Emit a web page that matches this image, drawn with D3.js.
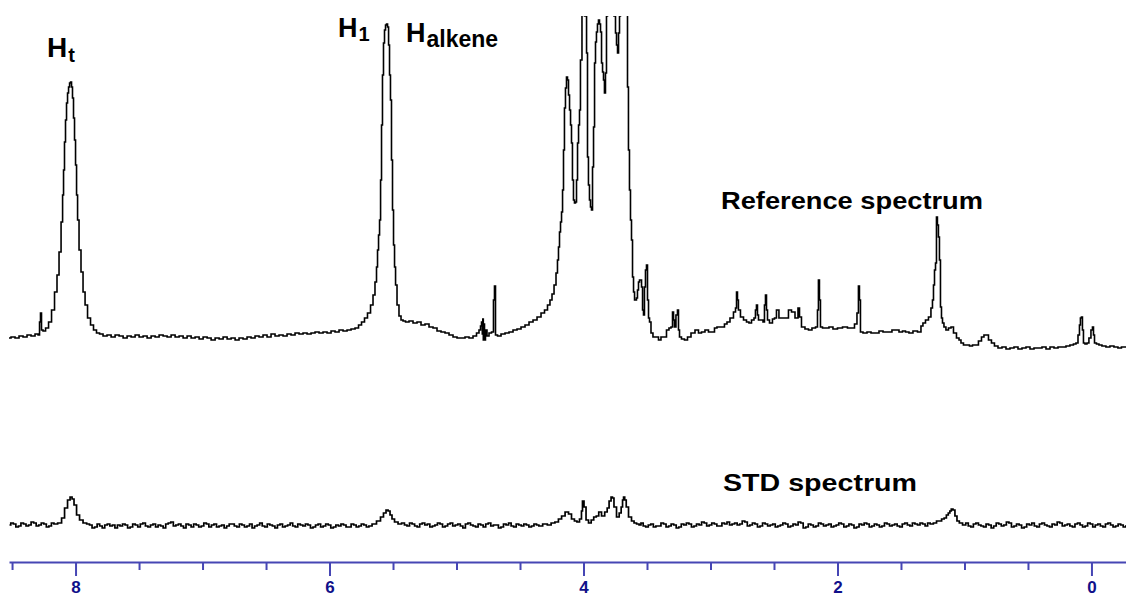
<!DOCTYPE html>
<html><head><meta charset="utf-8">
<script src="https://cdn.jsdelivr.net/npm/d3@7"></script>
<style>html,body{margin:0;padding:0;background:#fff;overflow:hidden;} svg{display:block;}</style>
</head><body><svg id="chart" width="1126" height="597"></svg>
<script>
// ---- data: chemical shift (ppm) and relative intensity (a.u.) ----
const referenceSpectrum = [
[8.524,14],[8.492,15],[8.461,14],[8.429,16],[8.398,15],[8.366,17],[8.335,16],[8.303,18],[8.287,17],[8.280,30],[8.272,39],[8.264,22],[8.248,21],[8.224,24],[8.201,30],[8.177,42],[8.154,60],[8.138,77],[8.122,100],[8.106,130],[8.098,157],[8.091,182],[8.083,210],[8.075,232],[8.067,249],[8.059,259],[8.051,265],[8.043,269],[8.035,270],[8.028,265],[8.020,254],[8.012,234],[8.004,212],[7.996,187],[7.988,157],[7.980,132],[7.965,102],[7.949,80],[7.933,60],[7.917,47],[7.894,34],[7.870,27],[7.847,22],[7.823,19],[7.799,18],
[7.768,16],[7.736,17],[7.704,15],[7.673,17],[7.641,16],[7.610,14],[7.578,16],[7.547,15],[7.515,17],[7.484,15],[7.452,16],[7.421,14],[7.389,16],[7.358,15],[7.326,17],[7.295,16],[7.263,15],[7.232,17],[7.200,15],[7.169,16],[7.137,14],[7.106,16],[7.074,14],[7.043,15],[7.011,13],[6.980,15],[6.948,14],[6.917,12],[6.885,14],[6.854,13],[6.822,15],[6.791,13],[6.759,14],[6.728,12],[6.697,14],[6.665,13],[6.634,15],[6.602,14],[6.571,16],[6.539,15],[6.508,17],[6.476,15],[6.445,18],[6.413,16],[6.382,17],[6.350,16],[6.319,18],[6.287,17],[6.256,19],[6.224,18],[6.193,19],[6.161,18],[6.130,19],[6.098,20],[6.067,19],[6.035,20],[6.004,19],[5.972,21],[5.941,20],[5.909,22],[5.878,21],[5.846,22],[5.815,23],[5.783,24],
[5.760,27],[5.736,30],[5.713,34],[5.689,39],[5.665,47],[5.650,57],[5.634,70],[5.626,85],[5.618,102],[5.610,117],[5.602,132],[5.594,172],[5.587,227],[5.579,277],[5.571,309],[5.563,322],[5.555,327],[5.547,328],[5.539,325],[5.531,307],[5.524,277],[5.516,252],[5.508,192],[5.500,142],[5.492,107],[5.484,85],[5.476,67],[5.461,47],[5.445,36],[5.429,32],[5.413,31],[5.390,30],[5.358,31],[5.327,29],[5.295,30],[5.264,27],[5.232,28],[5.201,25],[5.169,24],[5.138,21],[5.106,20],[5.075,19],[5.043,17],[5.012,15],[4.980,14],[4.949,14],[4.917,15],[4.886,14],[4.854,16],[4.831,19],[4.815,22],[4.807,26],[4.799,30],[4.795,18],[4.791,33],[4.787,12],[4.783,28],[4.776,12],[4.768,22],[4.752,16],[4.736,19],[4.713,20],[4.705,52],[4.697,66],[4.689,17],[4.665,16],[4.634,18],[4.602,19],[4.571,20],[4.539,22],[4.508,23],[4.476,25],[4.445,27],[4.413,30],[4.382,32],[4.350,35],[4.319,39],[4.295,42],[4.272,47],[4.256,52],[4.240,58],[4.224,67],[4.209,79],[4.201,92],[4.193,105],[4.185,120],[4.177,130],[4.169,140],[4.161,162],[4.154,202],[4.146,244],[4.138,264],[4.130,275],[4.122,272],[4.114,257],[4.106,242],[4.098,227],[4.091,209],[4.083,172],[4.075,152],[4.067,149],[4.059,150],[4.051,172],[4.043,209],[4.035,227],[4.028,242],[4.020,292],[4.004,392],[3.980,336],[3.972,299],[3.965,195],[3.957,167],[3.949,152],[3.941,145],[3.933,142],[3.925,185],[3.917,225],[3.909,289],[3.902,310],[3.894,320],[3.886,328],[3.878,332],[3.870,328],[3.862,320],[3.854,289],[3.846,280],[3.839,272],[3.831,259],[3.823,279],[3.815,336],[3.807,372],[3.791,402],[3.768,372],[3.752,336],[3.744,319],[3.736,307],[3.728,299],[3.720,319],[3.713,336],[3.705,372],[3.681,412],[3.657,372],[3.650,265],[3.642,202],[3.634,162],[3.626,132],[3.618,112],[3.610,75],[3.602,60],[3.594,52],[3.587,52],[3.579,54],[3.571,62],[3.563,70],[3.555,72],[3.547,72],[3.539,65],[3.531,42],[3.524,37],[3.516,65],[3.508,82],[3.500,87],[3.492,52],[3.484,34],[3.476,30],[3.461,19],[3.445,15],[3.421,15],[3.398,12],[3.382,15],[3.358,15],[3.335,22],[3.319,24],[3.303,25],[3.295,40],[3.287,32],[3.280,25],[3.264,37],[3.256,42],[3.248,22],[3.240,15],[3.217,13],[3.193,12],[3.169,15],[3.138,19],[3.106,22],[3.083,19],[3.059,20],[3.028,22],[3.004,20],[2.980,20],[2.957,24],[2.941,25],[2.917,25],[2.902,25],[2.878,28],[2.862,30],[2.831,34],[2.807,40],[2.799,44],[2.791,60],[2.784,52],[2.776,42],[2.752,35],[2.728,32],[2.705,30],[2.689,29],[2.665,32],[2.650,34],[2.642,42],[2.634,47],[2.626,37],[2.618,32],[2.594,32],[2.579,30],[2.571,47],[2.563,57],[2.555,42],[2.547,32],[2.524,29],[2.500,33],[2.492,34],[2.469,42],[2.453,34],[2.421,34],[2.398,34],[2.374,42],[2.350,40],[2.319,34],[2.303,44],[2.295,35],[2.272,25],[2.240,23],[2.217,22],[2.185,24],[2.161,25],[2.154,42],[2.146,72],[2.138,52],[2.130,25],[2.106,24],[2.083,24],[2.051,25],[2.020,23],[1.980,24],[1.941,25],[1.902,24],[1.878,24],[1.854,28],[1.839,39],[1.831,66],[1.823,52],[1.815,20],[1.783,19],[1.752,20],[1.720,19],[1.689,19],[1.657,21],[1.626,20],[1.587,20],[1.555,22],[1.531,22],[1.500,20],[1.476,21],[1.453,20],[1.421,19],[1.390,21],[1.350,20],[1.335,26],[1.319,29],[1.295,32],[1.272,35],[1.256,44],[1.248,52],[1.240,67],[1.232,82],[1.224,89],[1.217,135],[1.209,127],[1.201,115],[1.193,92],[1.185,45],[1.177,34],[1.169,29],[1.154,25],[1.138,22],[1.114,24],[1.098,25],[1.075,19],[1.051,14],[1.035,12],[1.020,9],[0.996,7],[0.972,7],[0.949,6],[0.925,7],[0.902,7],[0.878,11],[0.854,15],[0.839,17],[0.823,17],[0.799,12],[0.776,9],[0.752,6],[0.720,4],[0.689,5],[0.657,3],[0.626,4],[0.594,5],[0.563,3],[0.531,4],[0.500,5],[0.468,3],[0.437,4],[0.405,4],[0.374,5],[0.342,3],[0.311,5],[0.279,4],[0.248,5],[0.216,5],[0.185,6],[0.154,7],[0.130,8],[0.114,9],[0.098,17],[0.091,27],[0.083,34],[0.075,35],[0.067,22],[0.059,9],[0.043,8],[0.028,9],[0.012,14],[-0.004,22],[-0.012,25],[-0.020,17],[-0.028,9],[-0.051,8],[-0.067,7],[-0.098,6],[-0.130,5],[-0.161,6],[-0.193,5],[-0.224,4],[-0.248,5],[-0.272,5]
];

const stdSpectrum = [
[8.52,3],[8.50,5],[8.48,4],[8.46,1],[8.44,2],[8.42,5],[8.40,4],[8.38,2],[8.36,3],[8.34,6],[8.32,5],[8.30,2],[8.28,3],[8.26,5],[8.24,4],[8.22,1],[8.20,2],[8.18,5],[8.16,4],
[8.122,5],[8.098,10],[8.075,20],[8.051,28],[8.035,31],[8.020,29],[8.004,23],[7.980,13],[7.957,8],[7.925,5],
[7.90,4],[7.88,3],[7.86,0],[7.84,1],[7.82,4],[7.80,2],[7.78,0],[7.76,3],[7.74,4],[7.72,2],[7.70,3],[7.68,0],[7.66,3],[7.64,2],[7.62,4],[7.60,3],[7.58,0],[7.56,1],[7.54,4],[7.52,3],[7.50,1],[7.48,4],[7.46,5],[7.44,2],[7.42,1],[7.40,3],[7.38,4],[7.36,1],[7.34,3],[7.32,2],[7.30,0],[7.28,4],[7.26,5],[7.24,6],[7.22,2],[7.20,3],[7.18,4],[7.16,2],[7.14,0],[7.12,4],[7.10,3],[7.08,1],[7.06,4],[7.04,3],[7.02,1],[7.00,2],[6.98,5],[6.96,4],[6.94,1],[6.92,3],[6.90,4],[6.88,1],[6.86,2],[6.84,3],[6.82,0],[6.80,2],[6.78,4],[6.76,4],[6.74,2],[6.72,1],[6.70,4],[6.68,3],[6.66,1],[6.64,2],[6.62,4],[6.60,0],[6.58,2],[6.56,3],[6.54,5],[6.52,2],[6.50,1],[6.48,4],[6.46,3],[6.44,2],[6.42,0],[6.40,3],[6.38,4],[6.36,1],[6.34,2],[6.32,3],[6.30,5],[6.28,2],[6.26,1],[6.24,4],[6.22,3],[6.20,2],[6.18,4],[6.16,3],[6.14,0],[6.12,1],[6.10,3],[6.08,4],[6.06,1],[6.04,2],[6.02,4],[6.00,3],[5.98,0],[5.96,1],[5.94,3],[5.92,2],[5.90,4],[5.88,3],[5.86,1],[5.84,1],[5.82,4],[5.80,3],[5.78,1],[5.76,2],[5.74,4],[5.72,3],[5.70,1],[5.68,2],
[5.650,4],[5.610,7],[5.587,11],[5.563,15],[5.547,18],[5.531,17],[5.516,13],[5.500,9],[5.476,6],[5.445,4],
[5.42,5],[5.40,3],[5.38,2],[5.36,5],[5.34,4],[5.32,2],[5.30,1],[5.28,4],[5.26,5],[5.24,3],[5.22,4],[5.20,1],[5.18,2],[5.16,3],[5.14,5],[5.12,4],[5.10,1],[5.08,2],[5.06,4],[5.04,5],[5.02,2],[5.00,3],[4.98,4],[4.96,2],[4.94,0],[4.92,4],[4.90,5],[4.88,3],[4.86,2],[4.84,1],[4.82,4],[4.80,3],[4.78,1],[4.76,4],[4.74,5],[4.72,2],[4.70,3],[4.68,3],[4.66,0],[4.64,1],[4.62,4],[4.60,3],[4.58,5],[4.56,2],[4.54,1],[4.52,4],[4.50,3],[4.48,2],[4.46,4],[4.44,3],[4.42,1],[4.40,2],[4.38,4],[4.36,3],
[4.343,2],[4.300,4],[4.270,3],[4.240,5],[4.210,6],[4.185,9],[4.160,12],[4.130,16],[4.106,14],[4.083,9],[4.060,7],[4.043,6],[4.020,9],[4.012,17],[4.004,27],[3.988,21],[3.972,8],[3.949,5],[3.930,8],[3.909,11],[3.890,12],[3.870,16],[3.846,12],[3.820,16],[3.807,20],[3.790,27],[3.776,31],[3.768,30],[3.752,21],[3.728,11],[3.710,15],[3.697,21],[3.688,28],[3.681,31],[3.670,28],[3.657,21],[3.634,11],[3.610,7],[3.594,5],[3.570,4],[3.555,3],
[3.54,5],[3.52,2],[3.50,1],[3.48,3],[3.46,4],[3.44,1],[3.42,2],[3.40,2],[3.38,5],[3.36,4],[3.34,1],[3.32,2],[3.30,4],[3.28,3],[3.26,0],[3.24,1],[3.22,4],[3.20,3],[3.18,5],[3.16,4],[3.14,1],[3.12,2],[3.10,4],[3.08,3],[3.06,6],[3.04,5],[3.02,2],[3.00,3],[2.98,5],[2.96,4],[2.94,2],[2.92,2],[2.90,5],[2.88,4],[2.86,6],[2.84,3],[2.82,4],[2.80,5],[2.78,3],[2.76,4],[2.74,7],[2.72,6],[2.70,2],[2.68,3],[2.66,5],[2.64,4],[2.62,1],[2.60,2],[2.58,5],[2.56,4],[2.54,2],[2.52,3],[2.50,4],[2.48,1],[2.46,2],[2.44,3],[2.42,5],[2.40,4],[2.38,1],[2.36,2],[2.34,4],[2.32,3],[2.30,6],[2.28,5],[2.26,0],[2.24,1],[2.22,4],[2.20,3],[2.18,1],[2.16,2],[2.14,5],[2.12,4],[2.10,2],[2.08,3],[2.06,4],[2.04,1],[2.02,2],[2.00,3],[1.98,5],[1.96,4],[1.94,1],[1.92,2],[1.90,4],[1.88,3],[1.86,0],[1.84,1],[1.82,4],[1.80,3],[1.78,5],[1.76,4],[1.74,1],[1.72,2],[1.70,4],[1.68,3],[1.66,1],[1.64,2],[1.62,5],[1.60,4],[1.58,2],[1.56,3],[1.54,4],[1.52,2],[1.50,1],[1.48,4],[1.46,5],[1.44,3],[1.42,2],[1.40,5],[1.38,4],[1.36,3],[1.34,5],[1.32,4],[1.30,2],[1.28,5],[1.26,4],
[1.230,5],[1.210,7],[1.190,7],[1.170,9],[1.150,10],[1.135,13],[1.120,15],[1.110,17],[1.098,19],[1.083,18],[1.067,12],[1.051,7],[1.030,5],[1.000,3],
[0.98,5],[0.96,2],[0.94,1],[0.92,4],[0.90,5],[0.88,3],[0.86,2],[0.84,1],[0.82,4],[0.80,3],[0.78,0],[0.76,2],[0.74,5],[0.72,4],[0.70,2],[0.68,3],[0.66,6],[0.64,5],[0.62,1],[0.60,2],[0.58,4],[0.56,3],[0.54,0],[0.52,1],[0.50,4],[0.48,3],[0.46,5],[0.44,2],[0.42,1],[0.40,4],[0.38,5],[0.36,3],[0.34,2],[0.32,1],[0.30,4],[0.28,3],[0.26,6],[0.24,5],[0.22,2],[0.20,3],[0.18,4],[0.16,2],[0.14,1],[0.12,4],[0.10,5],[0.08,3],[0.06,1],[0.04,2],[0.02,5],[0.00,4],[-0.02,1],[-0.04,3],[-0.06,4],[-0.08,2],[-0.10,1],[-0.12,4],[-0.14,5],[-0.16,3],[-0.18,1],[-0.20,2],[-0.22,4],[-0.24,3],[-0.26,1],[-0.28,2]
];

const majorTicks = [8, 6, 4, 2, 0];
const minorTicks = [8.5, 7.5, 7, 6.5, 5.5, 5, 4.5, 3.5, 3, 2.5, 1.5, 1, 0.5];
const ppmDomain = [8.524, -0.272];
const peakLabels = [["H", "t"], ["H", "1"], ["H", "alkene"]];
const spectrumNames = ["Reference spectrum", "STD spectrum"];

// ---- drawing ----
const W = 1126, H = 597;
const svg = d3.select("#chart");
const FONT = "'Liberation Sans', Arial, sans-serif";

const x = d3.scaleLinear().domain(ppmDomain).range([9, 1126]);
const yRef = d3.scaleLinear().domain([0, 340]).range([352, 12]);
const yStd = d3.scaleLinear().domain([0, 340]).range([528, 188]);

svg.append("defs").append("clipPath").attr("id", "plotClip")
  .append("rect").attr("x", 0).attr("y", 16).attr("width", W).attr("height", 540);

const lineRef = d3.line().x(d => x(d[0])).y(d => yRef(d[1])).curve(d3.curveStep);
const lineStd = d3.line().x(d => x(d[0])).y(d => yStd(d[1])).curve(d3.curveStep);

const plot = svg.append("g").attr("clip-path", "url(#plotClip)");
plot.append("path").datum(referenceSpectrum).attr("d", lineRef)
  .attr("fill", "none").attr("stroke", "#000").attr("stroke-width", 1.6);
plot.append("path").datum(stdSpectrum).attr("d", lineStd)
  .attr("fill", "none").attr("stroke", "#000").attr("stroke-width", 1.7);

// axis
const axisColor = "#4646b4";
const gMinor = svg.append("g").attr("transform", "translate(0,562)")
  .call(d3.axisBottom(x).tickValues(minorTicks).tickSize(8).tickSizeOuter(0).tickFormat(""));
gMinor.select(".domain").remove();
gMinor.selectAll(".tick line").attr("stroke", axisColor).attr("stroke-width", 2);

const gMajor = svg.append("g").attr("transform", "translate(0,562)")
  .call(d3.axisBottom(x).tickValues(majorTicks).tickSize(14).tickSizeOuter(0).tickPadding(5).tickFormat(d3.format("d")));
gMajor.select(".domain").attr("stroke", axisColor).attr("stroke-width", 2);
gMajor.selectAll(".tick line").attr("stroke", axisColor).attr("stroke-width", 2);
gMajor.selectAll(".tick text").attr("fill", "#10108a").attr("font-family", FONT)
  .attr("font-weight", "bold").attr("font-size", 17);

// peak labels
const labelSpecs = [
  {x: 47, y: 57, sub: 62, size: 28, subSize: 20, dx: 1},
  {x: 338, y: 37, sub: 41, size: 27, subSize: 20, dx: 1},
  {x: 406, y: 42, sub: 47, size: 27, subSize: 23, dx: 1}
];
peakLabels.forEach((lab, i) => {
  const s = labelSpecs[i];
  const t = svg.append("text").attr("x", s.x).attr("y", s.y)
    .attr("font-family", FONT).attr("font-weight", "bold").attr("fill", "#000");
  t.append("tspan").attr("font-size", s.size).text(lab[0]);
  t.append("tspan").attr("font-size", s.subSize).attr("y", s.sub).attr("dx", s.dx).text(lab[1]);
});

// spectrum names
const nameSpecs = [{x: 721, y: 209, len: 262}, {x: 723, y: 491, len: 194}];
spectrumNames.forEach((n, i) => {
  svg.append("text").attr("x", nameSpecs[i].x).attr("y", nameSpecs[i].y)
    .attr("font-family", FONT).attr("font-weight", "bold").attr("font-size", 23)
    .attr("fill", "#000").attr("textLength", nameSpecs[i].len).attr("lengthAdjust", "spacingAndGlyphs")
    .text(n);
});
</script>
</body></html>
